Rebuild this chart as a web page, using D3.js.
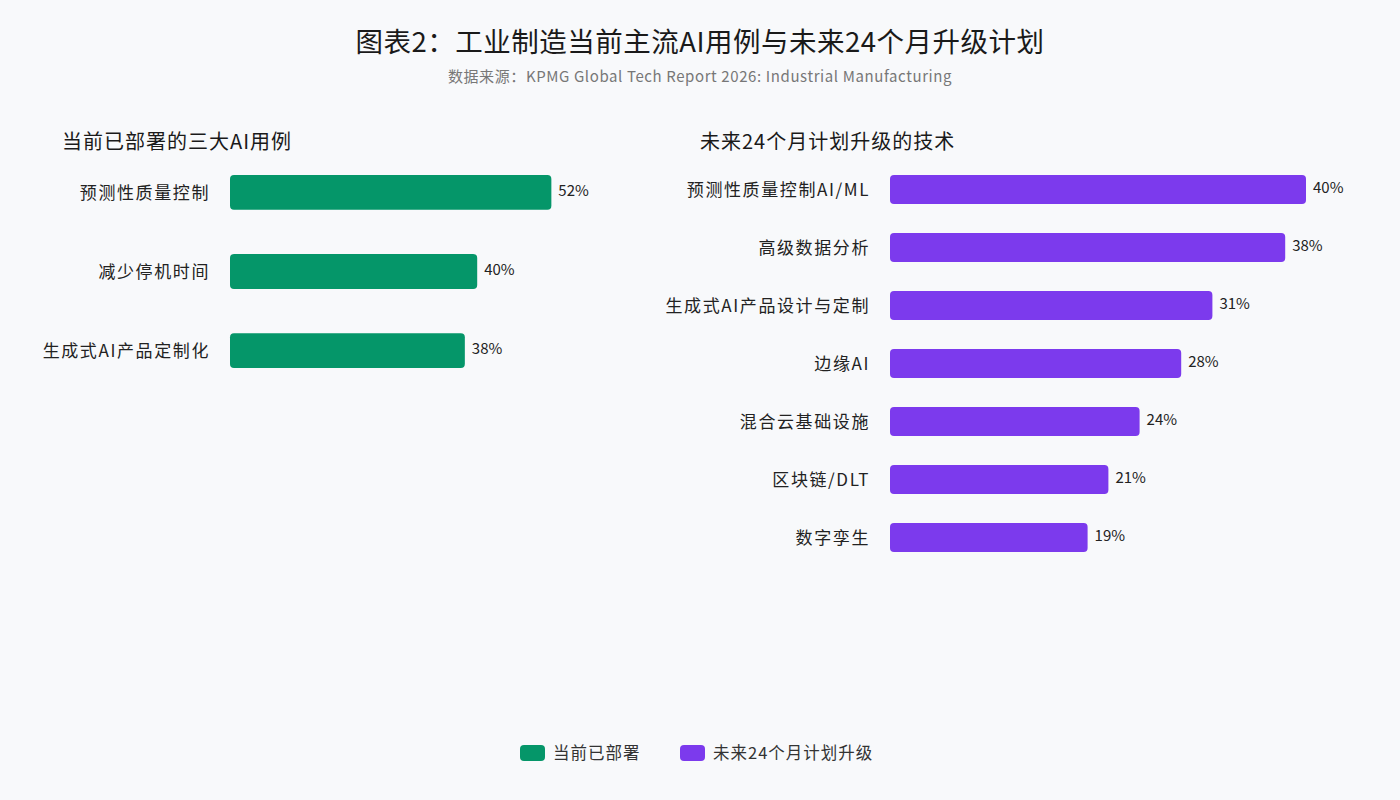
<!DOCTYPE html>
<html><head><meta charset="utf-8">
<script src="https://cdn.jsdelivr.net/npm/d3@7"></script>
<style>
body{margin:0;background:#f8f9fb;}
svg{display:block;font-family:"Noto Sans CJK SC","Noto Sans",sans-serif;}
</style></head>
<body><svg id="c" width="1400" height="800"></svg>
<script>
const title = "图表2：工业制造当前主流AI用例与未来24个月升级计划";
const subtitle = "数据来源：KPMG Global Tech Report 2026: Industrial Manufacturing";
const leftTitle = "当前已部署的三大AI用例";
const rightTitle = "未来24个月计划升级的技术";
const leftCategories = ["预测性质量控制","减少停机时间","生成式AI产品定制化"];
const leftValues = [52,40,38];
const rightCategories = ["预测性质量控制AI/ML","高级数据分析","生成式AI产品设计与定制","边缘AI","混合云基础设施","区块链/DLT","数字孪生"];
const rightValues = [40,38,31,28,24,21,19];
const legendLabels = ["当前已部署","未来24个月计划升级"];
const colors = ["#059669","#7c3aed"];

const svg = d3.select("#c");
svg.append("rect").attr("width",1400).attr("height",800).attr("fill","#f8f9fb");

svg.append("text").attr("x",700).attr("y",52).attr("text-anchor","middle")
  .attr("font-size",27.5).attr("letter-spacing",0.5).attr("fill","#1a1a1a").text(title);
svg.append("text").attr("x",700).attr("y",82).attr("text-anchor","middle")
  .attr("font-size",15).attr("letter-spacing",0.6).attr("fill","#777").text(subtitle);

function panel(cfg){
  const g = svg.append("g");
  g.append("text").attr("x",cfg.tx).attr("y",149).attr("font-size",20).attr("letter-spacing",1)
    .attr("fill","#1a1a1a").text(cfg.title);
  const x = d3.scaleLinear().domain([0,cfg.dmax]).range([cfg.x0,cfg.x1]);
  const y = d3.scaleBand().domain(cfg.cats).range([cfg.y0,cfg.y1]).paddingInner(cfg.pad).paddingOuter(0);
  const data = cfg.cats.map((c,i)=>({c,v:cfg.vals[i]}));
  g.selectAll("rect.bar").data(data).join("rect").attr("class","bar")
    .attr("x",x(0)).attr("y",d=>y(d.c)).attr("width",d=>x(d.v)-x(0)).attr("height",y.bandwidth())
    .attr("rx",4).attr("fill",cfg.color);
  g.selectAll("text.lab").data(data).join("text").attr("class","lab")
    .attr("x",cfg.x0-20).attr("y",d=>y(d.c)+y.bandwidth()/2).attr("dy","0.36em")
    .attr("text-anchor","end").attr("font-size",17).attr("letter-spacing",1.6).attr("fill","#222").text(d=>d.c);
  g.selectAll("text.val").data(data).join("text").attr("class","val")
    .attr("x",d=>x(d.v)+7).attr("y",d=>y(d.c)+y.bandwidth()/2-2).attr("dy","0.36em")
    .attr("font-size",15).attr("fill","#222").text(d=>d.v+"%");
}

panel({title:leftTitle,tx:62,cats:leftCategories,vals:leftValues,color:colors[0],
  x0:230,x1:230+6.18*60,dmax:60,y0:175,y1:368,pad:0.56});
panel({title:rightTitle,tx:700,cats:rightCategories,vals:rightValues,color:colors[1],
  x0:890,x1:890+10.4*45,dmax:45,y0:175,y1:552,pad:0.5});

const lg = svg.append("g");
const lx = [520,680];
legendLabels.forEach((l,i)=>{
  lg.append("rect").attr("x",lx[i]).attr("y",745).attr("width",25).attr("height",16).attr("rx",4).attr("fill",colors[i]);
  lg.append("text").attr("x",lx[i]+33).attr("y",753).attr("dy","0.36em").attr("font-size",16.5).attr("letter-spacing",1)
    .attr("fill","#333").text(l);
});
</script></body></html>
